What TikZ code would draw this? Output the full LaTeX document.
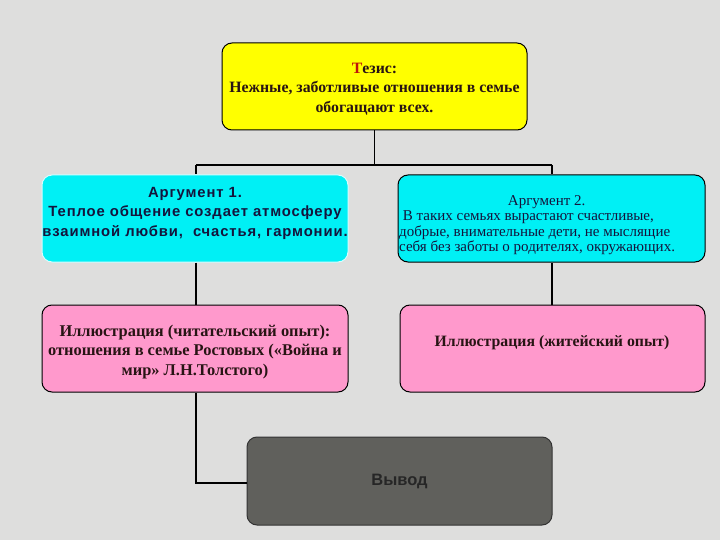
\documentclass[tikz,border=0pt]{standalone}
\usepackage{fontspec}
\setmainfont{Liberation Serif}
\newfontfamily\argsans[LetterSpace=6]{Liberation Sans}
\newfontfamily\plainsans{Liberation Sans}
\begin{document}
\begin{tikzpicture}[x=1pt,y=-1pt,
  box/.style={rounded corners=10pt, minimum width=#1, minimum height=87pt, inner sep=0pt, line width=1pt},
  wire/.style={line width=1.6pt, black},
  txt/.style={align=center, inner sep=0pt}]
\definecolor{bg}{RGB}{222,222,221}
\definecolor{yel}{RGB}{255,255,0}
\definecolor{cy}{RGB}{0,240,245}
\definecolor{pk}{RGB}{255,153,204}
\definecolor{dk}{RGB}{96,96,92}
\definecolor{navy}{RGB}{20,20,60}
\definecolor{brn}{RGB}{40,20,20}
\definecolor{thred}{RGB}{190,20,10}
\fill[bg] (0,0) rectangle (720,540);
\useasboundingbox (0,0) rectangle (720,540);

\node[box=305pt, draw=black, fill=yel] (thesis) at (374.5,86.5) {};
\node[txt, font=\bfseries\fontsize{15.8}{19.5}\selectfont, text=brn] (thesisT) at (374.5,89)
  {{\color{thred}Т}езис:\\Нежные, заботливые отношения в семье\\обогащают всех.};

\node[box=306pt, draw=white!85!cy, fill=cy] (arg1) at (195,218.5) {};
\node[txt, font=\argsans\bfseries\fontsize{14.8}{19.5}\selectfont, text=navy] (arg1T) at (195,213)
  {Аргумент 1.\\Теплое общение создает атмосферу\\взаимной любви,\ \ счастья, гармонии.};

\node[box=307pt, draw=black, fill=cy] (arg2) at (551.5,218.5) {};
\node[txt, anchor=west, align=left, font=\fontsize{15}{15.5}\selectfont, text=navy] (arg2T) at (399,225)
  {\makebox[275pt]{\hspace*{20pt}Аргумент 2.}\\\ В таких семьях вырастают счастливые,\\добрые, внимательные дети, не мыслящие\\себя без заботы о родителях, окружающих.};

\node[box=306pt, draw=black, fill=pk] (ill1) at (195,348.5) {};
\node[txt, font=\bfseries\fontsize{16.4}{19.5}\selectfont, text=brn] (ill1T) at (195,352)
  {Иллюстрация (читательский опыт):\\отношения в семье Ростовых («Война и\\мир» Л.Н.Толстого)};

\node[box=305pt, draw=black, fill=pk] (ill2) at (552.5,348.5) {};
\node[txt, font=\bfseries\fontsize{15.8}{16}\selectfont, text=brn] (ill2T) at (552,343)
  {Иллюстрация (житейский опыт)};

\node[box=305pt, minimum height=88pt, draw=black!80, fill=dk] (concl) at (399.5,481) {};
\node[txt, font=\plainsans\bfseries\fontsize{16.5}{18}\selectfont, text=black!85] (conclT) at (399.5,481)
  {Вывод};

\coordinate (j) at (374.5,165);
\coordinate (jl) at (196,165);
\coordinate (jr) at (552,165);
\coordinate (jd) at (196,483);
\draw[wire] (thesis.south) -- (j);
\draw[wire] (jl) -- (jr);
\draw[wire] (jl) -- (jl |- arg1.north);
\draw[wire] (jr) -- (jr |- arg2.north);
\draw[wire] (arg1.south -| jl) -- (ill1.north -| jl);
\draw[wire] (arg2.south -| jr) -- (ill2.north -| jr);
\draw[wire] (ill1.south -| jl) -- (jd) -- (concl.west |- jd);
\end{tikzpicture}
\end{document}
